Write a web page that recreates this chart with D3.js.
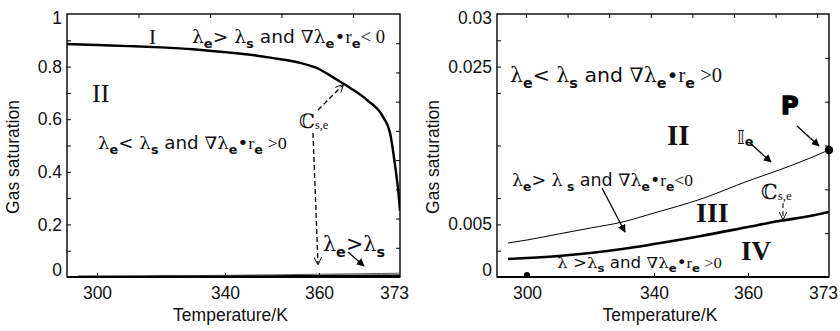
<!DOCTYPE html>
<html><head><meta charset="utf-8">
<script src="https://cdn.jsdelivr.net/npm/d3@7"></script>
<style>body{margin:0;background:#fff} svg{display:block}</style>
</head><body><svg id="c" width="840" height="331"></svg>
<script>
// ---------- data ----------
const xTickLabels = [300, 340, 360, 373];
const yTickLabelsLeft = [0, 0.2, 0.4, 0.6, 0.8, 1];
const yTickLabelsRight = [0, 0.005, 0.025, 0.03];

// left panel: saturation boundary curve
const sT = [290.6, 300, 310, 320, 330, 340, 345, 350, 356, 360, 362.2, 365, 367.7, 370.3, 371.4, 372.2, 372.7, 373];
const sV = [0.886, 0.882, 0.878, 0.873, 0.866, 0.855, 0.846, 0.833, 0.814, 0.791, 0.760, 0.719, 0.673, 0.608, 0.548, 0.426, 0.331, 0.251];

// right panel: C_s,e (thick) and I_e (thin)
const cT = [294, 300, 310, 320, 330, 340, 350, 360, 365, 370, 373];
const cV = [0.0017, 0.00179, 0.00198, 0.00226, 0.00264, 0.00311, 0.00387, 0.00472, 0.00538, 0.00602, 0.00653];
const iT = [294, 300, 310, 320, 330, 340, 350, 360, 365, 370, 373];
const iV = [0.00321, 0.00349, 0.00406, 0.00462, 0.00525, 0.0064, 0.00818, 0.01048, 0.01188, 0.01341, 0.01443];
const pointP = [373, 0.01443];
const point300 = [300, 0];

// frame tick fractions (inner ticks of the boxes)
const leftPanelLeftTicks = [0.1,0.2,0.3,0.4,0.5,0.6,0.7,0.8,0.9];
const leftPanelRightTicks = [1,2,3,4,5,6,7,8].map(k => k/9);
const leftPanelTopTicks = [1,2,3,4].map(k => k*0.2147);
const rightPanelLeftTicks = [0.1,0.2,0.3,0.5,0.7,0.8,0.9];
const rightPanelRightTicks = [1,2,3,4,5].map(k => k/6);
const rightPanelTopTicks = [0,1,2,3,4,5,6,7].map(k => 0.0873 + k*0.1253);

// ---------- setup ----------
const svg = d3.select('#c');
const SANS = "'Liberation Sans', Arial, sans-serif";
const WIDE = "'DejaVu Sans', sans-serif";
const SERIF = "'Liberation Serif', 'DejaVu Serif', serif";
const MATH = "'DejaVu Serif', serif";

const defs = svg.append('defs');
defs.append('marker').attr('id','af').attr('viewBox','0 0 10 10').attr('refX',9).attr('refY',5)
  .attr('markerUnits','userSpaceOnUse').attr('markerWidth',8).attr('markerHeight',8).attr('orient','auto')
  .append('path').attr('d','M0,0 L10,5 L0,10 z').attr('fill','#000');
defs.append('marker').attr('id','ao').attr('viewBox','0 0 10 10').attr('refX',9).attr('refY',5)
  .attr('markerUnits','userSpaceOnUse').attr('markerWidth',8).attr('markerHeight',8).attr('orient','auto')
  .append('path').attr('d','M0,0 L10,5 L0,10').attr('fill','none').attr('stroke','#000').attr('stroke-width',1.2);

const TOP = 14, BOTTOM = 277;
const panels = {
  L: {x0: 67, x1: 400},
  R: {x0: 497, x1: 829}
};

const xL = d3.scaleLinear().domain(xTickLabels).range([97, 225, 319, 400]);
const yL = d3.scaleLinear().domain([0, 1]).range([BOTTOM, TOP]);
const xR = d3.scaleLinear().domain(xTickLabels).range([527, 654, 748, 829]);
const yR = d3.scaleLinear().domain(yTickLabelsRight).range([BOTTOM, 224, 67, TOP]);

function frame(p, id) {
  defs.append('clipPath').attr('id', id).append('rect')
    .attr('x', p.x0).attr('y', TOP).attr('width', p.x1 - p.x0).attr('height', BOTTOM - TOP);
  svg.append('rect').attr('x', p.x0).attr('y', TOP).attr('width', p.x1 - p.x0).attr('height', BOTTOM - TOP)
    .attr('fill', 'none').attr('stroke', '#000').attr('stroke-width', 1.4);
  svg.append('line').attr('x1', p.x0).attr('x2', p.x1).attr('y1', BOTTOM).attr('y2', BOTTOM)
    .attr('stroke', '#000').attr('stroke-width', 2.2);
}

function frameTicks(p, leftF, rightF, topF) {
  const fy = d3.scaleLinear().domain([0, 1]).range([BOTTOM, TOP]);
  const fx = d3.scaleLinear().domain([0, 1]).range([p.x0, p.x1]);
  const mk = (axis, tr) => {
    const g = svg.append('g').attr('transform', tr).call(axis);
    g.select('.domain').remove();
    g.selectAll('line').attr('stroke', '#000').attr('stroke-width', 1);
  };
  mk(d3.axisLeft(fy).tickValues(leftF).tickFormat('').tickSizeInner(-4).tickSizeOuter(0), `translate(${p.x0},0)`);
  mk(d3.axisRight(fy).tickValues(rightF).tickFormat('').tickSizeInner(-4).tickSizeOuter(0), `translate(${p.x1},0)`);
  mk(d3.axisTop(fx).tickValues(topF).tickFormat('').tickSizeInner(-4).tickSizeOuter(0), `translate(0,${TOP})`);
}

function axes(p, x, y, yLabels, yFmt, bottomTicks) {
  const gy = svg.append('g').attr('transform', `translate(${p.x0},0)`)
    .call(d3.axisLeft(y).tickValues(yLabels).tickFormat(yFmt).tickSize(0).tickPadding(5));
  gy.select('.domain').remove();
  gy.selectAll('text').attr('font-family', SANS).attr('font-size', 17.5).attr('fill', '#111')
    .attr('dy', (d, i) => i === 0 ? '-0.1em' : (i === yLabels.length - 1 ? '0.55em' : '0.32em'));
  const gxt = svg.append('g').attr('transform', `translate(0,${BOTTOM})`)
    .call(d3.axisBottom(x).tickValues(bottomTicks).tickFormat('').tickSizeInner(-4).tickSizeOuter(0));
  gxt.select('.domain').remove();
  gxt.selectAll('line').attr('stroke', '#000');
  const gx = svg.append('g').attr('transform', `translate(0,${BOTTOM})`)
    .call(d3.axisBottom(x).tickValues(xTickLabels).tickSize(0).tickPadding(10));
  gx.select('.domain').remove();
  gx.selectAll('text').attr('font-family', SANS).attr('font-size', 17.5).attr('fill', '#111')
    .attr('dx', d => d === 373 ? -6 : 0);
  svg.append('text').attr('x', (p.x0 + p.x1) / 2 - 3).attr('y', 321).attr('text-anchor', 'middle')
    .attr('font-family', SANS).attr('font-size', 17.5).attr('fill', '#111').text('Temperature/K');
}

// ---------- left panel ----------
frame(panels.L, 'clipL');
frameTicks(panels.L, leftPanelLeftTicks, leftPanelRightTicks, leftPanelTopTicks);
axes(panels.L, xL, yL, yTickLabelsLeft, d => (d === 0 ? '0' : d === 1 ? '1' : d3.format('.1f')(d)), [300, 340, 360]);
svg.append('text').attr('transform', 'translate(19,157) rotate(-90)').attr('text-anchor', 'middle')
  .attr('font-family', SANS).attr('font-size', 17.5).attr('fill', '#111').text('Gas saturation');

const gL = svg.append('g').attr('clip-path', 'url(#clipL)');
const lineL = (T, V) => d3.line().x((d, i) => xL(T[i])).y((d, i) => yL(V[i])).curve(d3.curveMonotoneX)(T);
gL.append('path').attr('d', lineL(sT, sV)).attr('fill', 'none').attr('stroke', '#000').attr('stroke-width', 2.4);
gL.append('path').attr('d', lineL(iT, iV)).attr('fill', 'none').attr('stroke', '#555').attr('stroke-width', 1);
gL.append('path').attr('d', lineL(cT, cV)).attr('fill', 'none').attr('stroke', '#000').attr('stroke-width', 1.6);

// ---------- right panel ----------
frame(panels.R, 'clipR');
frameTicks(panels.R, rightPanelLeftTicks, rightPanelRightTicks, rightPanelTopTicks);
axes(panels.R, xR, yR, yTickLabelsRight, d => (d === 0 ? '0' : String(d)), [340, 360]);
svg.append('text').attr('transform', 'translate(439,157) rotate(-90)').attr('text-anchor', 'middle')
  .attr('font-family', SANS).attr('font-size', 17.5).attr('fill', '#111').text('Gas saturation');

const gR = svg.append('g').attr('clip-path', 'url(#clipR)');
const lineR = (T, V) => d3.line().x((d, i) => xR(T[i])).y((d, i) => yR(V[i])).curve(d3.curveMonotoneX)(T);
gR.append('path').attr('d', lineR(iT, iV)).attr('fill', 'none').attr('stroke', '#000').attr('stroke-width', 1);
gR.append('path').attr('d', lineR(cT, cV)).attr('fill', 'none').attr('stroke', '#000').attr('stroke-width', 2.6);
svg.append('circle').attr('cx', xR(pointP[0])).attr('cy', yR(pointP[1])).attr('r', 4.2).attr('fill', '#000');
svg.append('circle').attr('cx', xR(point300[0])).attr('cy', yR(point300[1]) - 2).attr('r', 3).attr('fill', '#000');

// ---------- annotations ----------
function rich(x, y, parts, size, width) {
  const t = svg.append('text').attr('x', x).attr('y', y).attr('font-size', size).attr('fill', '#111');
  let shift = 0;
  parts.forEach(([s, k]) => {
    const ts = t.append('tspan').text(s);
    let target = 0;
    if (k === 'sub') { target = size * 0.28; ts.attr('font-family', WIDE).attr('font-weight', 'bold').attr('font-size', size * 0.7); }
    else if (k === 'g') ts.attr('font-family', MATH);
    else if (k === 's') ts.attr('font-family', SERIF);
    else ts.attr('font-family', WIDE);
    ts.attr('dy', target - shift);
    shift = target;
  });
  if (width) t.attr('textLength', width).attr('lengthAdjust', 'spacingAndGlyphs');
  return t;
}
const gtLess = [['λ','g'],['e','sub'],['> ','n'],['λ','g'],['s','sub'],['  and  ','n'],['∇λ','g'],['e','sub'],['•','n'],['r','s'],['e','sub'],['< 0','s']];
const ltGreater = [['λ','g'],['e','sub'],['< ','n'],['λ','g'],['s','sub'],['  and  ','n'],['∇λ','g'],['e','sub'],['•','n'],['r','s'],['e','sub'],[' >0','s']];

rich(192, 43, gtLess, 18, 193);
rich(98, 149, ltGreater, 17, 189);
rich(323, 251, [['λ','g'],['e','sub'],['>','n'],['λ','g'],['s','sub']], 21, 62);
rich(510, 82, ltGreater, 20, 212);
rich(512, 186, [['λ','g'],['e','sub'],['> ','n'],['λ','g'],[' s','sub'],[' and ','n'],['∇λ','g'],['e','sub'],['•','n'],['r','s'],['e','sub'],['<0','s']], 17, 181);
rich(557, 268, [['λ','g'],[' >','n'],['λ','g'],['s','sub'],[' and  ','n'],['∇λ','g'],['e','sub'],['•','n'],['r','s'],['e','sub'],[' >0','s']], 15, 165);

const roman = (x, y, s, size, bold) => svg.append('text').attr('x', x).attr('y', y).attr('font-family', SERIF)
  .attr('font-size', size).attr('font-weight', bold ? 'bold' : 'normal').attr('fill', '#111').text(s);
roman(149, 44, 'I', 21, false);
roman(92, 102, 'II', 26, false);
roman(667, 145, 'II', 29, true);
roman(696, 222, 'III', 28, true);
roman(741, 260, 'IV', 27, true);

function cse(x, y, size) {
  const t = svg.append('text').attr('x', x).attr('y', y).attr('fill', '#111');
  t.append('tspan').attr('font-family', MATH).attr('font-size', size).text('ℂ');
  t.append('tspan').attr('font-family', SERIF).attr('font-size', size * 0.62).attr('dy', 1).text('s,e');
}
cse(299, 128, 20);
cse(761, 199, 21);
{
  const t = svg.append('text').attr('x', 737).attr('y', 144).attr('fill', '#111');
  t.append('tspan').attr('font-family', WIDE).attr('font-size', 20).text('𝕀');
  t.append('tspan').attr('font-family', WIDE).attr('font-weight', 'bold').attr('font-size', 13).attr('dy', 2).text('e');
}
svg.append('text').attr('x', 781).attr('y', 114).attr('font-family', WIDE).attr('font-weight', 'bold')
  .attr('font-size', 24).attr('stroke', '#000').attr('stroke-width', 1.3).attr('fill', '#000').text('P');

const arrow = (x1, y1, x2, y2, dashed, w) => svg.append('line').attr('x1', x1).attr('y1', y1).attr('x2', x2).attr('y2', y2)
  .attr('stroke', '#000').attr('stroke-width', w || 1.3)
  .attr('stroke-dasharray', dashed ? '5,3' : null)
  .attr('marker-end', dashed ? 'url(#ao)' : 'url(#af)');
arrow(318, 110, 343, 85, true);
arrow(313, 133, 318, 264, true);
arrow(348, 252, 364, 266, false);
arrow(797, 126, 819, 146, false);
arrow(750, 143, 771, 162, false);
arrow(602, 188, 625, 232, false);
arrow(783, 203, 783, 219, true, 1);
</script></body></html>
